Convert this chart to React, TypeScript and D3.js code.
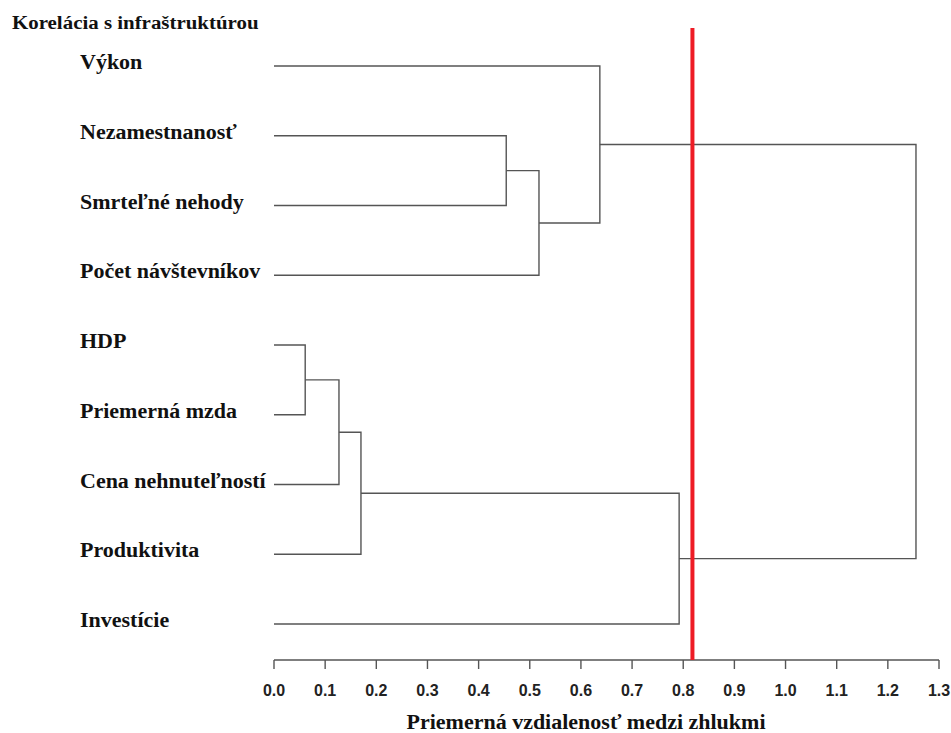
import React from "react";
import * as d3 from "d3";

const leaves = [
  "Výkon",
  "Nezamestnanosť",
  "Smrteľné nehody",
  "Počet návštevníkov",
  "HDP",
  "Priemerná mzda",
  "Cena nehnuteľností",
  "Produktivita",
  "Investície",
];

// hclust-style merges: negative = leaf (1-based), positive = earlier merge (1-based)
const mergeLeft = [-5, 1, 2, -2, 4, -1, 3, 6];
const mergeRight = [-6, -7, -8, -3, -4, 5, -9, 7];
const mergeHeight = [0.061, 0.127, 0.17, 0.454, 0.518, 0.637, 0.792, 1.255];

const cutHeight = 0.818;
const tickValues = [0, 0.1, 0.2, 0.3, 0.4, 0.5, 0.6, 0.7, 0.8, 0.9, 1.0, 1.1, 1.2, 1.3];

const title = "Korelácia s infraštruktúrou";
const xTitle = "Priemerná vzdialenosť medzi zhlukmi";

export default function App() {
  const width = 951;
  const height = 733;
  const x = d3.scaleLinear().domain([0, 1.3]).range([274, 939]);
  const y = d3.scalePoint<string>().domain(leaves).range([66, 624]);
  const axisY = 660;

  const nodeY: number[] = [];
  const nodeX: number[] = [];
  const getPos = (id: number) => {
    if (id < 0) return { px: x(0), py: y(leaves[-id - 1])! };
    return { px: nodeX[id - 1], py: nodeY[id - 1] };
  };
  const paths: string[] = [];
  mergeHeight.forEach((h, i) => {
    const a = getPos(mergeLeft[i]);
    const b = getPos(mergeRight[i]);
    const hx = x(h);
    const p = d3.path();
    p.moveTo(a.px, a.py);
    p.lineTo(hx, a.py);
    p.lineTo(hx, b.py);
    p.lineTo(b.px, b.py);
    paths.push(p.toString());
    nodeX[i] = hx;
    nodeY[i] = (a.py + b.py) / 2;
  });

  const serif = "'Liberation Serif', 'Times New Roman', serif";
  const sans = "'Liberation Sans', Arial, sans-serif";

  return (
    <svg width={width} height={height} style={{ position: "absolute", left: 0, top: 0, background: "#fff" }}>
      <rect width={width} height={height} fill="#fff" />
      <text
        transform={`translate(12,29) scale(1.1,1)`}
        fontFamily={serif}
        fontWeight="bold"
        fontSize={19}
        fill="#111"
      >
        {title}
      </text>
      {leaves.map((l) => (
        <text
          key={l}
          transform={`translate(80,${y(l)! + 3}) scale(1.1,1)`}
          fontFamily={serif}
          fontWeight="bold"
          fontSize={20}
          fill="#111"
        >
          {l}
        </text>
      ))}
      {paths.map((d, i) => (
        <path key={i} d={d} fill="none" stroke="#555" strokeWidth={1.4} />
      ))}
      <line x1={x(0)} x2={x(1.3)} y1={axisY} y2={axisY} stroke="#555" strokeWidth={1.4} />
      {tickValues.map((t) => (
        <g key={t}>
          <line x1={x(t)} x2={x(t)} y1={axisY} y2={axisY + 9} stroke="#555" strokeWidth={1.4} />
          <text
            x={x(t)}
            y={axisY + 36}
            textAnchor="middle"
            fontFamily={sans}
            fontWeight="bold"
            fontSize={16}
            fill="#222"
          >
            {t.toFixed(1)}
          </text>
        </g>
      ))}
      <line x1={x(cutHeight)} x2={x(cutHeight)} y1={28} y2={axisY} stroke="#ee1c25" strokeWidth={4} />
      <text
        transform={`translate(586,729) scale(1.1,1)`}
        textAnchor="middle"
        fontFamily={serif}
        fontWeight="bold"
        fontSize={20}
        fill="#111"
      >
        {xTitle}
      </text>
    </svg>
  );
}
